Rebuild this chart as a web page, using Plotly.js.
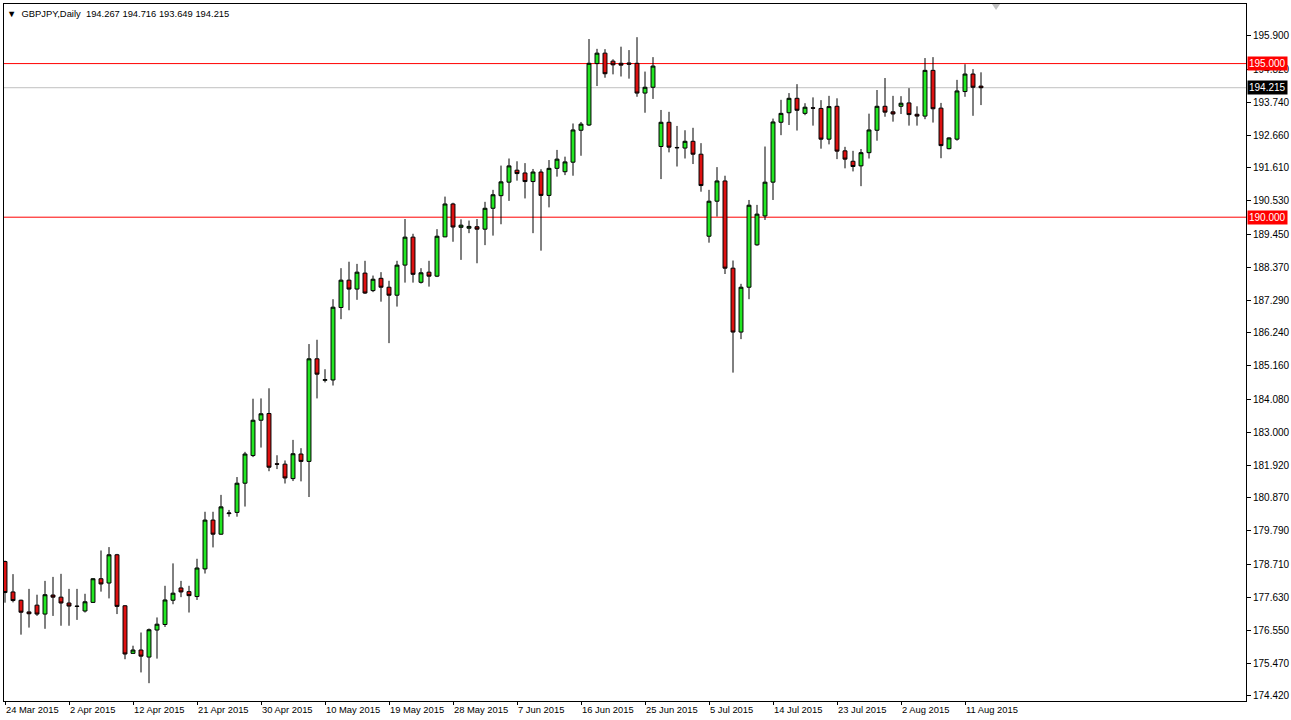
<!DOCTYPE html>
<html><head><meta charset="utf-8">
<script src="https://cdn.plot.ly/plotly-3.0.1.min.js"></script>
<style>html,body{margin:0;padding:0;background:#fff;} #chart{width:1291px;height:720px;}</style>
</head><body><div id="chart"></div>
<script>
const symbol = 'GBPJPY';
const timeframe = 'Daily';

const dates = [
'2015-03-24','2015-03-25','2015-03-26','2015-03-27','2015-03-29','2015-03-30','2015-03-31','2015-04-01','2015-04-02','2015-04-03',
'2015-04-05','2015-04-06','2015-04-07','2015-04-08','2015-04-09','2015-04-10','2015-04-12','2015-04-13','2015-04-14','2015-04-15',
'2015-04-16','2015-04-17','2015-04-19','2015-04-20','2015-04-21','2015-04-22','2015-04-23','2015-04-24','2015-04-26','2015-04-27',
'2015-04-28','2015-04-29','2015-04-30','2015-05-01','2015-05-03','2015-05-04','2015-05-05','2015-05-06','2015-05-07','2015-05-08',
'2015-05-10','2015-05-11','2015-05-12','2015-05-13','2015-05-14','2015-05-15','2015-05-17','2015-05-18','2015-05-19','2015-05-20',
'2015-05-21','2015-05-22','2015-05-24','2015-05-25','2015-05-26','2015-05-27','2015-05-28','2015-05-29','2015-05-31','2015-06-01',
'2015-06-02','2015-06-03','2015-06-04','2015-06-05','2015-06-07','2015-06-08','2015-06-09','2015-06-10','2015-06-11','2015-06-12',
'2015-06-14','2015-06-15','2015-06-16','2015-06-17','2015-06-18','2015-06-19','2015-06-21','2015-06-22','2015-06-23','2015-06-24',
'2015-06-25','2015-06-26','2015-06-28','2015-06-29','2015-06-30','2015-07-01','2015-07-02','2015-07-03','2015-07-05','2015-07-06',
'2015-07-07','2015-07-08','2015-07-09','2015-07-10','2015-07-12','2015-07-13','2015-07-14','2015-07-15','2015-07-16','2015-07-17',
'2015-07-19','2015-07-20','2015-07-21','2015-07-22','2015-07-23','2015-07-24','2015-07-26','2015-07-27','2015-07-28','2015-07-29',
'2015-07-30','2015-07-31','2015-08-02','2015-08-03','2015-08-04','2015-08-05','2015-08-06','2015-08-07','2015-08-09','2015-08-10',
'2015-08-11','2015-08-12','2015-08-13'];

const open = [
178.79,177.80,177.53,177.15,177.37,177.08,177.70,177.63,177.44,177.34,
177.18,177.46,178.23,178.09,179.01,177.35,175.80,175.91,175.68,176.56,
176.74,177.53,177.93,177.81,177.65,178.55,180.14,179.68,180.35,180.39,
181.34,182.24,183.39,183.61,181.97,181.96,181.49,182.29,182.05,185.39,
184.69,184.70,187.06,187.95,187.66,188.18,187.61,188.01,187.72,187.46,
188.44,189.35,187.88,188.21,188.08,189.36,190.43,189.67,189.64,189.69,
189.61,190.29,190.70,191.14,191.53,191.44,191.16,191.47,190.71,191.59,
191.48,191.79,192.83,193.00,195.00,195.34,195.08,195.01,195.02,195.01,
194.04,194.23,192.30,193.09,192.27,192.25,192.47,192.05,189.38,190.52,
191.18,188.34,186.26,187.72,189.10,190.04,191.14,193.09,193.40,193.87,
193.38,193.56,193.54,192.54,193.61,192.16,191.82,191.67,192.10,192.83,
193.61,193.43,193.61,193.72,193.35,193.29,194.78,193.55,192.23,192.54,
194.09,194.66,194.267];

const high = [
178.82,178.38,177.55,177.90,177.71,178.16,178.29,178.39,177.90,177.90,
177.74,178.25,179.15,179.26,179.04,177.37,176.05,176.48,176.61,176.97,
178.00,178.73,178.16,178.00,178.88,180.41,180.41,180.96,180.47,181.54,
182.36,184.09,184.10,184.43,182.25,182.08,182.75,182.48,185.87,186.01,
185.05,187.33,188.34,188.55,188.48,188.58,188.10,188.21,187.93,188.58,
189.94,189.46,188.34,188.58,189.61,190.67,190.47,189.93,189.89,189.94,
190.50,190.89,191.68,191.91,191.82,191.76,191.57,191.56,191.86,192.19,
191.97,193.05,193.10,195.80,195.48,195.47,195.14,195.55,195.44,195.86,
194.74,195.21,193.49,193.43,192.97,192.83,192.91,192.41,190.89,191.63,
191.35,188.59,187.83,190.56,190.40,192.30,193.21,193.82,194.04,194.33,
193.71,193.90,193.81,193.95,193.87,192.29,192.16,192.22,193.37,194.14,
194.53,193.95,193.94,194.20,193.61,195.18,195.21,193.72,192.60,194.47,
194.98,194.82,194.716];

const low = [
177.45,177.46,176.41,176.64,177.02,176.60,177.02,176.70,176.70,176.89,
177.13,177.44,177.81,177.59,177.08,175.61,175.79,175.18,174.83,175.63,
176.66,177.40,177.63,177.13,177.54,178.40,179.25,179.66,180.25,180.25,
180.58,182.19,182.50,181.73,181.80,181.33,181.41,181.40,180.89,184.10,
184.62,184.52,186.68,186.97,187.31,187.50,187.56,187.25,185.90,187.09,
187.87,187.87,187.84,187.74,188.05,189.35,189.20,188.61,189.48,188.50,
189.09,189.40,189.77,190.53,191.19,190.61,189.48,188.91,190.32,191.32,
191.37,191.35,192.00,192.97,194.27,194.54,194.65,194.58,194.51,193.92,
193.40,193.85,191.24,192.11,191.65,191.91,191.73,190.83,189.17,190.02,
188.15,184.94,186.03,187.33,189.07,189.91,190.56,192.67,193.00,192.82,
193.32,192.98,192.23,192.37,191.89,191.59,191.49,191.01,191.91,192.49,
193.27,193.11,193.36,192.98,192.98,193.19,193.08,191.92,192.21,192.49,
193.92,193.30,193.649];

const close = [
177.78,177.52,177.14,177.09,177.08,177.71,177.63,177.44,177.34,177.33,
177.48,178.23,178.06,179.01,177.33,175.78,175.91,175.71,176.57,176.75,
177.54,177.76,177.80,177.68,178.58,180.14,179.68,180.57,180.37,181.34,
182.29,183.39,183.60,181.86,181.96,181.51,182.30,182.05,185.39,184.89,
184.71,187.07,187.95,187.66,188.21,187.53,187.98,187.72,187.46,188.44,
189.35,188.14,188.19,188.08,189.38,190.43,189.68,189.74,189.70,189.61,
190.29,190.73,191.15,191.67,191.42,191.16,191.47,190.71,191.59,191.89,
191.80,192.84,193.03,195.01,195.34,194.67,194.96,194.95,194.98,194.04,
194.23,194.92,193.09,192.28,192.26,192.47,192.05,191.03,190.52,191.18,
188.34,186.26,187.72,190.39,190.10,191.14,193.10,193.38,193.87,193.48,
193.58,193.55,192.54,193.60,192.15,191.89,191.65,192.10,192.84,193.61,
193.42,193.36,193.71,193.34,193.29,194.78,193.53,192.33,192.58,194.11,
194.66,194.23,194.215];

const xTickDates = ['2015-03-24','2015-04-02','2015-04-12','2015-04-21','2015-04-30','2015-05-10','2015-05-19','2015-05-28',
  '2015-06-07','2015-06-16','2015-06-25','2015-07-05','2015-07-14','2015-07-23','2015-08-02','2015-08-11'];
const xTickLabels = ['24 Mar 2015','2 Apr 2015','12 Apr 2015','21 Apr 2015','30 Apr 2015','10 May 2015','19 May 2015','28 May 2015',
  '7 Jun 2015','16 Jun 2015','25 Jun 2015','5 Jul 2015','14 Jul 2015','23 Jul 2015','2 Aug 2015','11 Aug 2015'];
const yTickVals = [174.42,175.47,176.55,177.63,178.71,179.79,180.87,181.92,183.00,184.08,185.16,
  186.24,187.29,188.37,189.45,190.53,191.61,192.66,193.74,194.82,195.90];
const levels = [195.0, 190.0];

const n = dates.length;
const lastClose = close[n-1];
const family = 'Liberation Sans, Arial, sans-serif';
const font = {family: family, size: 10, color: '#000'};
const smallFont = {family: family, size: 9.4, color: '#000'};

const trace = {
  type: 'candlestick', x: dates, open: open, high: high, low: low, close: close,
  increasing: {line: {color: '#000', width: 1}, fillcolor: '#22E622'},
  decreasing: {line: {color: '#000', width: 1}, fillcolor: '#DD1111'},
  whiskerwidth: 0, hoverinfo: 'skip', showlegend: false
};

const shapes = levels.map(v => ({type: 'line', xref: 'paper', x0: 0, x1: 1, yref: 'y', y0: v, y1: v,
  line: {color: '#FF0000', width: 1}, layer: 'below'}));
shapes.push({type: 'line', xref: 'paper', x0: 0, x1: 1, yref: 'y', y0: lastClose, y1: lastClose,
  line: {color: '#C0C0C0', width: 1}, layer: 'below'});
shapes.push({type: 'path', xref: 'paper', yref: 'paper', path: 'M 0.7955 1 L 0.8020 1 L 0.79875 0.9915 Z',
  fillcolor: '#C0C0C0', line: {width: 0}});

const annotations = levels.map(v => ({xref: 'paper', x: 1, xanchor: 'left', xshift: 1, yref: 'y', y: v, yanchor: 'middle',
  text: v.toFixed(3), showarrow: false, bgcolor: '#FF0000', borderpad: 1,
  font: {family: family, size: 10, color: '#fff'}}));
annotations.push({xref: 'paper', x: 1, xanchor: 'left', xshift: 1, yref: 'y', y: lastClose, yanchor: 'middle',
  text: lastClose.toFixed(3), showarrow: false, bgcolor: '#000', borderpad: 1,
  font: {family: family, size: 10, color: '#fff'}});
annotations.push({xref: 'paper', x: 0, xanchor: 'left', xshift: 1, yref: 'paper', y: 1, yanchor: 'top', yshift: -2,
  text: '▼  ' + symbol + ',' + timeframe + '  ' + [open[n-1], high[n-1], low[n-1], close[n-1]].map(v => v.toFixed(3)).join(' '),
  showarrow: false, font: smallFont});

const layout = {
  width: 1291, height: 720, paper_bgcolor: '#fff', plot_bgcolor: '#fff',
  margin: {l: 4, r: 45, t: 4, b: 19},
  showlegend: false, font: font,
  xaxis: {type: 'category', range: [-0.125, 155.125], rangeslider: {visible: false},
    tickmode: 'array', tickvals: xTickDates, ticktext: xTickLabels, tickangle: 0,
    ticks: 'outside', ticklen: 3, tickcolor: '#000', ticklabelposition: 'outside right',
    showgrid: false, zeroline: false, showline: true, linecolor: '#000', linewidth: 1, mirror: true,
    tickfont: smallFont, fixedrange: true},
  yaxis: {side: 'right', range: [174.25, 196.94], tickmode: 'array', tickvals: yTickVals,
    ticktext: yTickVals.map(v => v.toFixed(3)),
    ticks: 'outside', ticklen: 4, tickcolor: '#000',
    showgrid: false, zeroline: false, showline: true, linecolor: '#000', linewidth: 1, mirror: true,
    tickfont: font, fixedrange: true},
  shapes: shapes, annotations: annotations, boxgap: 0.3
};

Plotly.newPlot('chart', [trace], layout, {displayModeBar: false, staticPlot: true});
</script>
</body></html>
